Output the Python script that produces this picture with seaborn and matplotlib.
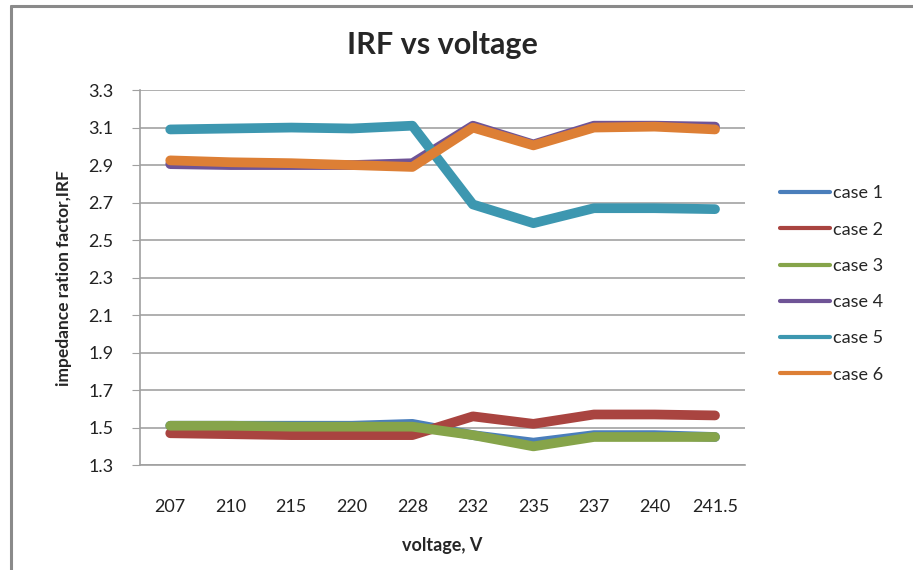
import matplotlib
matplotlib.use("Agg")
import matplotlib.pyplot as plt
from matplotlib.lines import Line2D
import numpy as np
import pandas as pd
import seaborn as sns

# data
voltage = ['207', '210', '215', '220', '228', '232', '235', '237', '240', '241.5']
case1 = [1.51, 1.51, 1.51, 1.51, 1.52, 1.46, 1.42, 1.46, 1.46, 1.45]
case2 = [1.47, 1.465, 1.46, 1.46, 1.46, 1.56, 1.52, 1.57, 1.57, 1.565]
case3 = [1.51, 1.51, 1.505, 1.505, 1.505, 1.46, 1.40, 1.45, 1.45, 1.45]
case4 = [2.905, 2.90, 2.90, 2.90, 2.91, 3.11, 3.01, 3.11, 3.11, 3.105]
case5 = [3.09, 3.095, 3.10, 3.095, 3.11, 2.69, 2.59, 2.67, 2.67, 2.665]
case6 = [2.925, 2.915, 2.91, 2.90, 2.89, 3.10, 3.005, 3.10, 3.105, 3.09]
cases = ['case 1', 'case 2', 'case 3', 'case 4', 'case 5', 'case 6']
colors = ['#4a7ebb', '#a94440', '#86a44a', '#6f5496', '#3d97b0', '#dd7f35']

df = pd.DataFrame({'voltage': voltage, 'case 1': case1, 'case 2': case2,
                   'case 3': case3, 'case 4': case4, 'case 5': case5,
                   'case 6': case6})
long = df.melt(id_vars='voltage', var_name='case', value_name='IRF')

sns.set_style('white')
plt.rcParams['font.family'] = ['Lato', 'DejaVu Sans']

fig = plt.figure(figsize=(9.13, 5.70), dpi=100)
ax = fig.add_axes([0.1533, 0.184, 0.663, 0.658])

sns.lineplot(data=long, x='voltage', y='IRF', hue='case', hue_order=cases,
             palette=colors, sort=False, linewidth=7, ax=ax,
             solid_capstyle='round', solid_joinstyle='round')

ax.set_ylim(1.3, 3.3)
ax.set_yticks(np.arange(1.3, 3.31, 0.2))
ax.set_yticklabels(['%.1f' % v for v in np.arange(1.3, 3.31, 0.2)])
ax.set_xlim(-0.5, 9.5)
ax.yaxis.grid(True, color='#9a9a9a', linewidth=1.1)
ax.set_axisbelow(True)
for s in ['top', 'right']:
    ax.spines[s].set_visible(False)
for s in ['left', 'bottom']:
    ax.spines[s].set_color('#a0a0a0')
    ax.spines[s].set_linewidth(1.2)
ax.tick_params(axis='y', left=True, length=6, color='#a0a0a0',
               labelsize=13, pad=13, labelcolor='#222222')
ax.tick_params(axis='x', bottom=False, labelsize=13, pad=21,
               labelcolor='#222222')

ax.set_title('IRF vs voltage', fontsize=22, fontweight='bold', pad=26)
ax.set_xlabel('voltage, V', fontsize=13, fontweight='bold', labelpad=16)
ax.set_ylabel('impedance ration factor,IRF', fontsize=12.5,
              fontweight='bold', labelpad=12)

leg = ax.legend(loc='center left', bbox_to_anchor=(1.03, 0.483), frameon=False,
                fontsize=13, handlelength=2.8, handletextpad=0.15,
                labelspacing=1.12)
for h in leg.get_lines():
    h.set_linewidth(3)

# chart-area border (only top and left visible in the reference)
fig.add_artist(Line2D([11 / 913, 11 / 913], [0, 1 - 6 / 570],
                      color='#8a8a8a', linewidth=2.2))
fig.add_artist(Line2D([11 / 913, 1], [1 - 6 / 570, 1 - 6 / 570],
                      color='#8a8a8a', linewidth=2.2))

fig.savefig('out.png', dpi=100, facecolor='white')
